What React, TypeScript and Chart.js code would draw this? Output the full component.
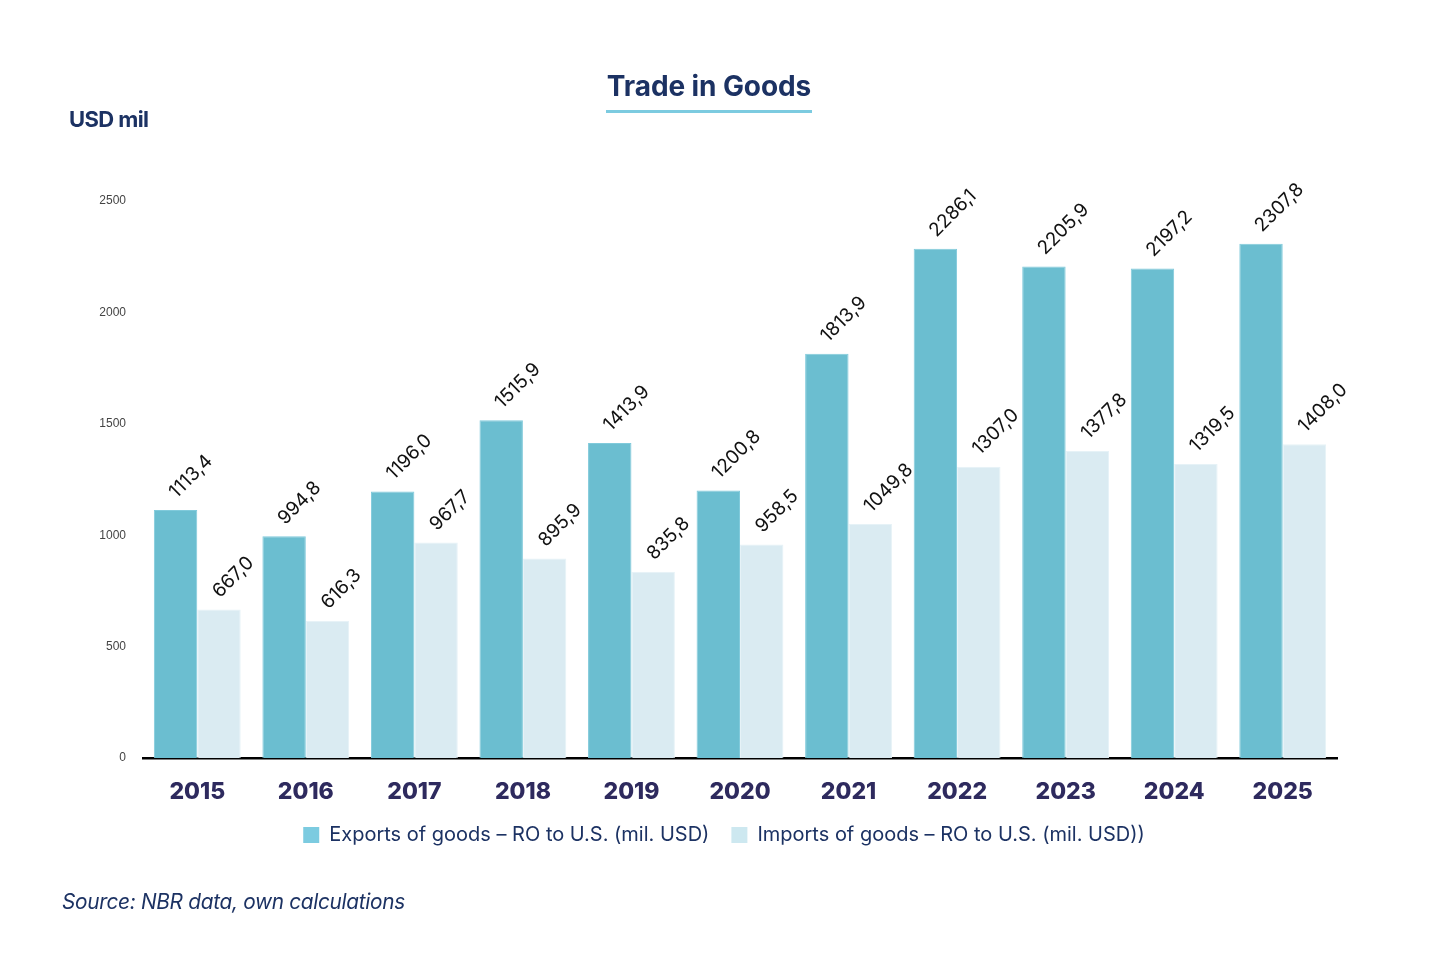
import { useEffect, useRef } from "react";
import { Chart, ChartConfiguration, Plugin } from "chart.js/auto";

const years = ["2015", "2016", "2017", "2018", "2019", "2020", "2021", "2022", "2023", "2024", "2025"];
const exportsUsd = [1113.4, 994.8, 1196.0, 1515.9, 1413.9, 1200.8, 1813.9, 2286.1, 2205.9, 2197.2, 2307.8];
const importsUsd = [667.0, 616.3, 967.7, 895.9, 835.8, 958.5, 1049.8, 1307.0, 1377.8, 1319.5, 1408.0];
const yTicks = [0, 500, 1000, 1500, 2000, 2500];

const NAVY = "#1c3263";
const fmt = (v: number) => v.toFixed(1).replace(".", ",");

// rotated value labels above each bar
const valueLabels: Plugin = {
  id: "valueLabels",
  afterDatasetsDraw(chart) {
    const ctx = chart.ctx;
    ctx.save();
    ctx.font = "19px Inter";
    ctx.fillStyle = "#111";
    ctx.textAlign = "left";
    ctx.textBaseline = "middle";
    chart.data.datasets.forEach((ds, i) => {
      const meta = chart.getDatasetMeta(i);
      meta.data.forEach((bar: any, j) => {
        const v = ds.data[j] as number;
        ctx.save();
        ctx.translate(bar.x - 3, bar.y - 15);
        ctx.rotate(-Math.PI / 4);
        ctx.fillText(fmt(v), 0, 0);
        ctx.restore();
      });
    });
    ctx.restore();
  },
};

// y tick labels drawn by hand (the y axis box is narrow so the legend stays centred like the original)
const yLabels: Plugin = {
  id: "yLabels",
  afterDraw(chart) {
    const ctx = chart.ctx;
    const y = chart.scales.y;
    ctx.save();
    ctx.font = "12px 'Liberation Sans'";
    ctx.fillStyle = "#444";
    ctx.textAlign = "right";
    ctx.textBaseline = "middle";
    y.ticks.forEach((t) => {
      ctx.fillText(String(t.value), 126, y.getPixelForValue(t.value));
    });
    ctx.restore();
  },
};

export default function App() {
  const canvasRef = useRef<HTMLCanvasElement>(null);
  const chartRef = useRef<Chart | null>(null);

  useEffect(() => {
    document.body.style.margin = "0";
    if (!canvasRef.current) return;
    if (chartRef.current) chartRef.current.destroy();

    const config: ChartConfiguration = {
      type: "bar",
      data: {
        labels: years,
        datasets: [
          {
            label: "Exports of goods – RO to U.S. (mil. USD)",
            data: exportsUsd,
            backgroundColor: "#6bbed0",
            borderColor: "#80cadb",
            borderWidth: 1,
            categoryPercentage: 0.8,
            barPercentage: 1.0,
          },
          {
            label: "Imports of goods – RO to U.S. (mil. USD))",
            data: importsUsd,
            backgroundColor: "#daebf2",
            borderColor: "#e6f2f7",
            borderWidth: 1,
            categoryPercentage: 0.8,
            barPercentage: 1.0,
          },
        ],
      },
      options: {
        animation: false,
        responsive: false,
        maintainAspectRatio: false,
        layout: { padding: { top: 201, left: 111, right: 119, bottom: 103 } },
        plugins: {
          tooltip: { enabled: false },
          legend: {
            position: "bottom",
            labels: {
              color: NAVY,
              font: { family: "Inter", size: 20 },
              boxWidth: 16,
              boxHeight: 16,
              padding: 22,
              generateLabels: (chart) =>
                chart.data.datasets.map((ds, i) => ({
                  text: ds.label as string,
                  fillStyle: i === 0 ? "#7ccbe0" : "#cde8f0",
                  strokeStyle: i === 0 ? "#7ccbe0" : "#cde8f0",
                  lineWidth: 0,
                  fontColor: NAVY,
                  datasetIndex: i,
                  hidden: false,
                })),
            },
          },
        },
        scales: {
          x: {
            z: 1,
            grid: { display: false, drawTicks: false },
            border: { display: true, color: "#000", width: 2.5 },
            ticks: {
              color: "#2e2a5e",
              font: { family: "Inter", size: 23, weight: 800 },
              padding: 20,
            },
            afterFit: (s: any) => {
              s.height = 45;
            },
          },
          y: {
            min: 0,
            max: 2500,
            grid: { display: false, drawTicks: false },
            border: { display: false },
            afterBuildTicks: (s: any) => {
              s.ticks = yTicks.map((v) => ({ value: v }));
            },
            ticks: { display: false },
            afterFit: (s: any) => {
              s.width = 32;
            },
          },
        },
      },
      plugins: [valueLabels, yLabels],
    };

    chartRef.current = new Chart(canvasRef.current, config);
    return () => {
      chartRef.current?.destroy();
      chartRef.current = null;
    };
  }, []);

  return (
    <div style={{ position: "relative", width: 1456, height: 958, background: "#fff", fontFamily: "Inter" }}>
      <canvas ref={canvasRef} width={1456} height={958} style={{ position: "absolute", left: 0, top: 0 }} />
      <div
        style={{
          position: "absolute",
          left: 606,
          top: 68,
          width: 206,
          textAlign: "center",
          fontSize: 28,
          fontWeight: 700,
          color: NAVY,
          lineHeight: "36px",
          letterSpacing: -0.1,
          borderBottom: "3px solid #7ccbe0",
          paddingBottom: 6,
          whiteSpace: "nowrap",
        }}
      >
        Trade in Goods
      </div>
      <div
        style={{
          position: "absolute",
          left: 69,
          top: 105,
          fontSize: 22,
          fontWeight: 700,
          color: NAVY,
          letterSpacing: -0.6,
          lineHeight: "28px",
        }}
      >
        USD mil
      </div>
      <div
        style={{
          position: "absolute",
          left: 62,
          top: 888,
          fontSize: 20.8,
          fontStyle: "italic",
          color: NAVY,
          lineHeight: "28px",
          letterSpacing: -0.3,
        }}
      >
        Source: NBR data, own calculations
      </div>
    </div>
  );
}
